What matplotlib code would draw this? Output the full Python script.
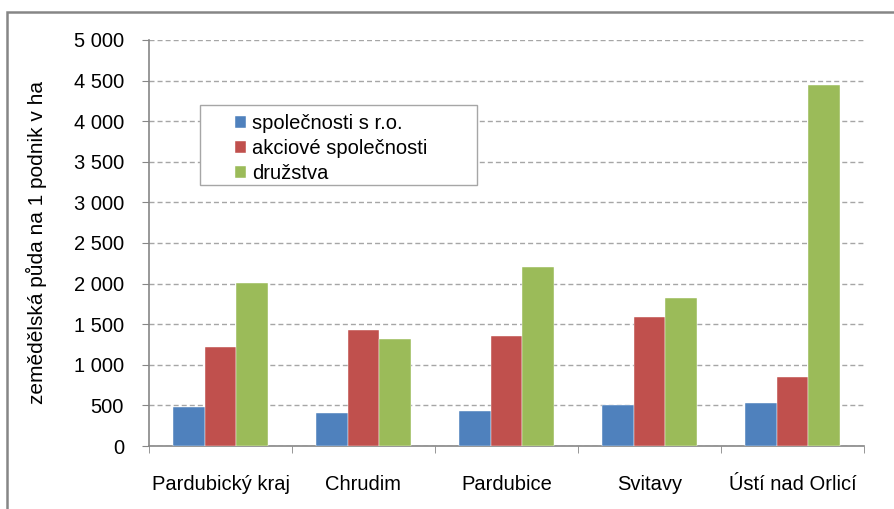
import matplotlib
matplotlib.use("Agg")
import matplotlib.pyplot as plt
from matplotlib.patches import Rectangle
from matplotlib.ticker import FuncFormatter, FixedLocator
import numpy as np

categories = ["Pardubický kraj", "Chrudim", "Pardubice", "Svitavy", "Ústí nad Orlicí"]
series_names = ["společnosti s r.o.", "akciové společnosti", "družstva"]
sro = [484, 403, 431, 506, 525]
akciove = [1223, 1429, 1351, 1585, 846]
druzstva = [2004, 1314, 2201, 1819, 4446]
colors = ["#4F81BD", "#C0504D", "#9BBB59"]
y_label = "zemědělská půda na 1 podnik v ha"

plt.rcParams["font.family"] = ["Liberation Sans", "DejaVu Sans"]
FS = 14.5

fig = plt.figure(figsize=(8.94, 5.09), dpi=100)
ax = fig.add_axes([149 / 894, 1 - 446 / 509, 715 / 894, 406 / 509])

x = np.arange(len(categories))
width = 0.222
for i, (vals, name, c) in enumerate(zip([sro, akciove, druzstva], series_names, colors)):
    ax.bar(x + (i - 1) * width, vals, width, color=c, label=name, zorder=3,
           edgecolor="white", linewidth=0.3)

ax.set_xlim(-0.5, len(categories) - 0.5)
ax.set_ylim(0, 5000)
ax.set_yticks(np.arange(0, 5001, 500))
ax.yaxis.set_major_formatter(FuncFormatter(lambda v, p: f"{v:,.0f}".replace(",", " ")))
ax.set_xticks(x)
ax.set_xticklabels(categories)
ax.xaxis.set_minor_locator(FixedLocator(np.arange(-0.5, len(categories), 1.0)))

ax.tick_params(axis="x", which="major", length=0, pad=21, labelsize=FS)
ax.tick_params(axis="x", which="minor", length=5, color="#868686", direction="out")
ax.tick_params(axis="y", length=5, color="#868686", pad=13, labelsize=FS)

ax.grid(axis="y", color="#A6A6A6", linestyle=(0, (3.6, 2.2)), linewidth=1, zorder=1)
ax.set_axisbelow(True)
for s in ["top", "right"]:
    ax.spines[s].set_visible(False)
for s in ["left", "bottom"]:
    ax.spines[s].set_color("#868686")
    ax.spines[s].set_linewidth(1.2)

ax.set_ylabel(y_label, fontsize=15)
ax.yaxis.set_label_coords(-(149 - 47) / 715, 0.5)

# legend box
ax.add_patch(Rectangle((0.0713, 0.643), 0.3874, 0.197, transform=ax.transAxes,
                       facecolor="white", edgecolor="#A6A6A6", linewidth=1, zorder=4))
leg = ax.legend(loc="upper left", bbox_to_anchor=(0.120, 0.818), frameon=False,
                fontsize=FS, borderpad=0, borderaxespad=0, handlelength=0.55,
                handleheight=0.55, handletextpad=0.3, labelspacing=0.3)
leg.set_zorder(5)

# outer chart border
fig.patches.append(Rectangle((7 / 894, -0.1), 1.2, 1.1 - 12 / 509, transform=fig.transFigure,
                             facecolor="none", edgecolor="#868686", linewidth=1.8, clip_on=False))

fig.savefig("out.png", dpi=100)
